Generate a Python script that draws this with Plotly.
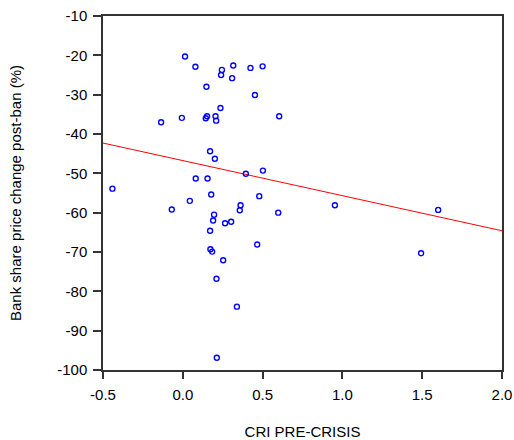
import plotly.graph_objects as go

cri_pre_crisis = [0.014, 0.079, 0.245, 0.316, 0.424, 0.500, 0.240, 0.309, 0.148, 0.452,
                  0.236, -0.136, -0.006, 0.152, 0.144, 0.205, 0.209, 0.604, 0.171, 0.201,
                  0.395, 0.502, 0.081, 0.155, -0.441, 0.178, 0.479, 0.044, 0.362, 0.357,
                  -0.069, 0.598, 0.196, 0.190, 0.265, 0.303, 0.171, 0.466, 0.173, 0.184,
                  0.253, 0.211, 0.339, 0.213, 0.953, 1.600, 1.493]
price_change = [-20.3, -22.9, -23.7, -22.6, -23.2, -22.8, -25.0, -25.8, -28.0, -30.1,
                -33.4, -37.0, -35.9, -35.5, -36.0, -35.5, -36.6, -35.5, -44.4, -46.3,
                -50.1, -49.3, -51.3, -51.3, -53.9, -55.4, -55.8, -57.0, -58.1, -59.4,
                -59.2, -60.0, -60.5, -62.0, -62.7, -62.3, -64.6, -68.1, -69.3, -69.9,
                -72.1, -76.8, -83.9, -96.9, -58.1, -59.3, -70.3]

fit_x = [-0.5, 2.0]
fit_y = [-42.3, -64.6]

x_ticks = [-0.5, 0.0, 0.5, 1.0, 1.5, 2.0]
x_tick_labels = ["-0.5", "0.0", "0.5", "1.0", "1.5", "2.0"]
y_ticks = [-100, -90, -80, -70, -60, -50, -40, -30, -20, -10]
y_tick_labels = ["-100", "-90", "-80", "-70", "-60", "-50", "-40", "-30", "-20", "-10"]

fig = go.Figure()
fig.add_trace(go.Scatter(x=fit_x, y=fit_y, mode="lines",
                         line=dict(color="#FF0000", width=1), showlegend=False,
                         hoverinfo="skip"))
fig.add_trace(go.Scatter(x=cri_pre_crisis, y=price_change, mode="markers",
                         marker=dict(symbol="circle-open", size=5, color="#0000FF",
                                     line=dict(width=1.4, color="#0000FF")),
                         showlegend=False))

font = "Liberation Sans, Arial, sans-serif"
fig.update_layout(
    template="none",
    width=514, height=440,
    margin=dict(l=103, r=12, t=16, b=70, autoexpand=False),
    paper_bgcolor="white", plot_bgcolor="white",
    font=dict(family=font, size=15, color="#000000"),
    xaxis=dict(range=[-0.5, 2.0], tickvals=x_ticks, ticktext=x_tick_labels,
               automargin=False,
               showgrid=False, zeroline=False, showline=True, linecolor="#333333",
               linewidth=1.5, mirror=True, ticks="outside", ticklen=7,
               tickcolor="#333333", tickwidth=1.5, ticklabelstandoff=3,
               tickfont=dict(size=15),
               title=dict(text="CRI PRE-CRISIS", font=dict(size=15), standoff=26)),
    yaxis=dict(range=[-100, -10], tickvals=y_ticks, ticktext=y_tick_labels,
               automargin=False,
               showgrid=False, zeroline=False, showline=True, linecolor="#333333",
               linewidth=1.5, mirror=True, ticks="outside", ticklen=8,
               tickcolor="#333333", tickwidth=1.5, ticklabelstandoff=3,
               tickfont=dict(size=15),
               title=dict(text="Bank share price change post-ban (%)",
                          font=dict(size=15), standoff=32)),
)

fig.write_html("out.html", config={"displayModeBar": False},
               post_script="document.body.style.margin='0';document.body.style.overflow='hidden';")
